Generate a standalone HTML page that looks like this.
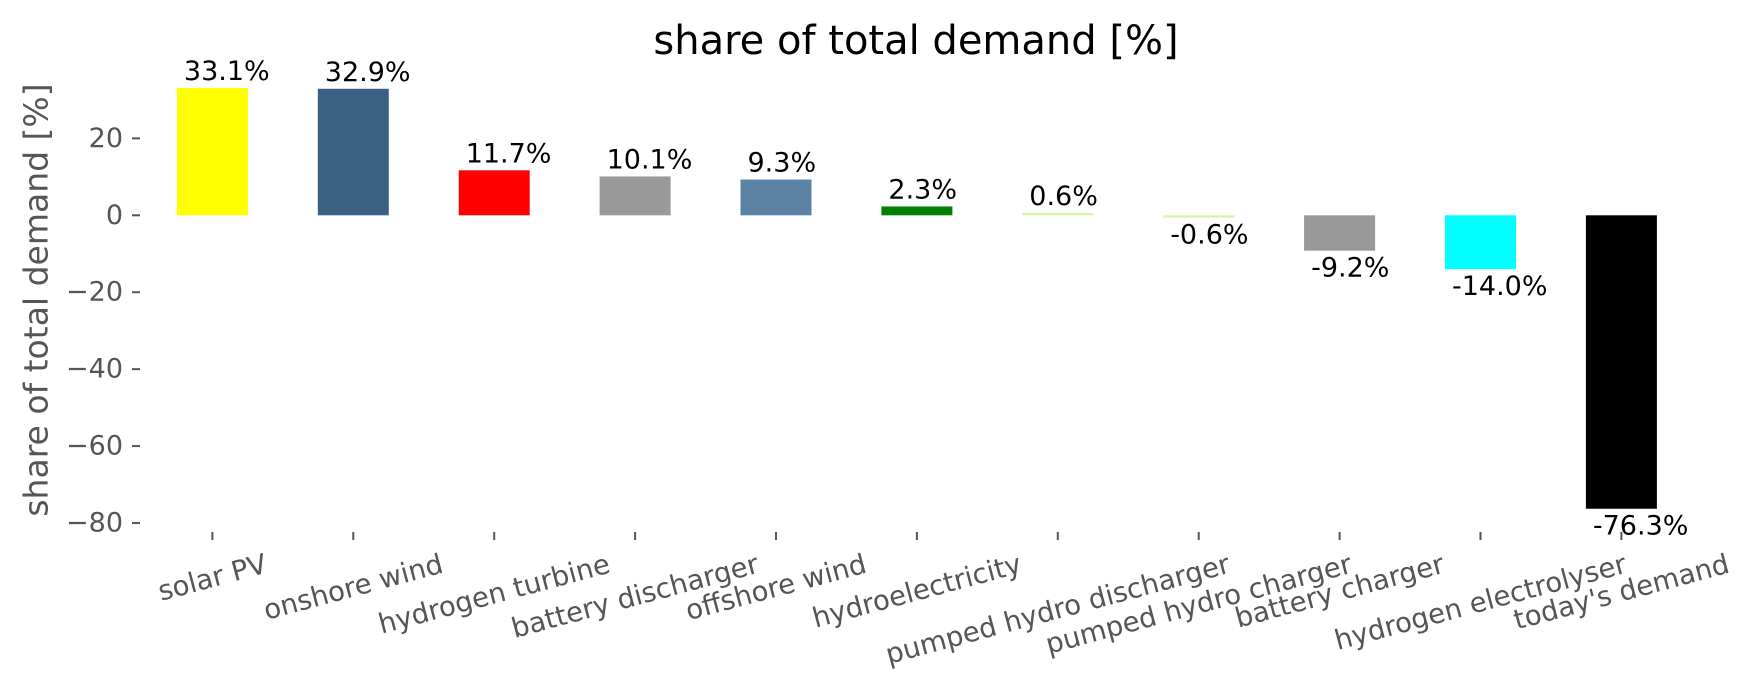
<!DOCTYPE html>
<html><head><meta charset="utf-8">
<style>
html,body{margin:0;padding:0;background:#fff;}
svg{display:block;font-family:"DejaVu Sans","Liberation Sans",sans-serif;}
</style></head>
<body>
<svg id="s" width="1753" height="689" viewBox="0 0 1753 689" xmlns="http://www.w3.org/2000/svg">
<text x="916" y="54" font-size="40" text-anchor="middle" fill="#000">share of total demand [%]</text>
<text transform="translate(36,300) rotate(-90)" font-size="33" text-anchor="middle" dominant-baseline="central" fill="#555">share of total demand [%]</text>
<g id="yt" font-size="27" fill="#555" text-anchor="end" dominant-baseline="central"></g>
<g id="bars"></g>
<g id="xt" font-size="27.5" fill="#555"></g>
</svg>
<script>
var ns="http://www.w3.org/2000/svg",s=document.getElementById('s');
function el(t,a,p,txt){var e=document.createElementNS(ns,t);for(var k in a)e.setAttribute(k,a[k]);if(txt!==undefined)e.textContent=txt;(p||s).appendChild(e);return e;}
var z=215.3,u=3.846,FS=27.5;
var yt=document.getElementById('yt');
[20,0,-20,-40,-60,-80].forEach(function(v){var y=z-v*u;
el('text',{x:123,y:y},yt,(v<0?'\u2212'+(-v):''+v));
el('line',{x1:132,x2:140,y1:y,y2:y,stroke:'#555','stroke-width':2});});
var d=[["solar PV",33.1,"#ffff00"],["onshore wind",32.9,"#3b6182"],["hydrogen turbine",11.7,"#ff0000"],["battery discharger",10.1,"#999999"],["offshore wind",9.3,"#5b82a3"],["hydroelectricity",2.3,"#008000"],["pumped hydro discharger",0.6,"#d5f5a0"],["pumped hydro charger",-0.6,"#d5f5a0"],["battery charger",-9.2,"#999999"],["hydrogen electrolyser",-14.0,"#00ffff"],["today's demand",-76.3,"#000000"]];
var bars=document.getElementById('bars'),xt=document.getElementById('xt');
var sin=Math.sin(15*Math.PI/180),cos=Math.cos(15*Math.PI/180);
d.forEach(function(r,i){var cx=212.4+i*140.9,x=cx-35.5,v=r[1],h=Math.abs(v)*u;
var y=v>=0?z-h:z;
el('rect',{x:x,y:y,width:71,height:Math.max(h,1),fill:r[2]},bars);
var lab=(v<0?'-'+(-v).toFixed(1):v.toFixed(1))+'%';
if(v>=0)el('text',{x:x+7,y:z-h-8,'font-size':27,fill:'#000'},bars,lab);
else el('text',{x:x+7,y:z+h+26,'font-size':27,fill:'#000'},bars,lab);
el('line',{x1:cx,x2:cx,y1:532,y2:540,stroke:'#555','stroke-width':2},xt);
var t=el('text',{'text-anchor':'middle','dominant-baseline':'central'},xt,r[0]);
var w;try{w=t.getComputedTextLength();}catch(e){w=r[0].length*0.58*FS;}
if(!w)w=r[0].length*0.58*FS;
var hh=1.164*FS,H=w*sin+hh*cos;
t.setAttribute('transform','translate('+cx+','+(548+H/2)+') rotate(-15)');
});
</script>
</body></html>
